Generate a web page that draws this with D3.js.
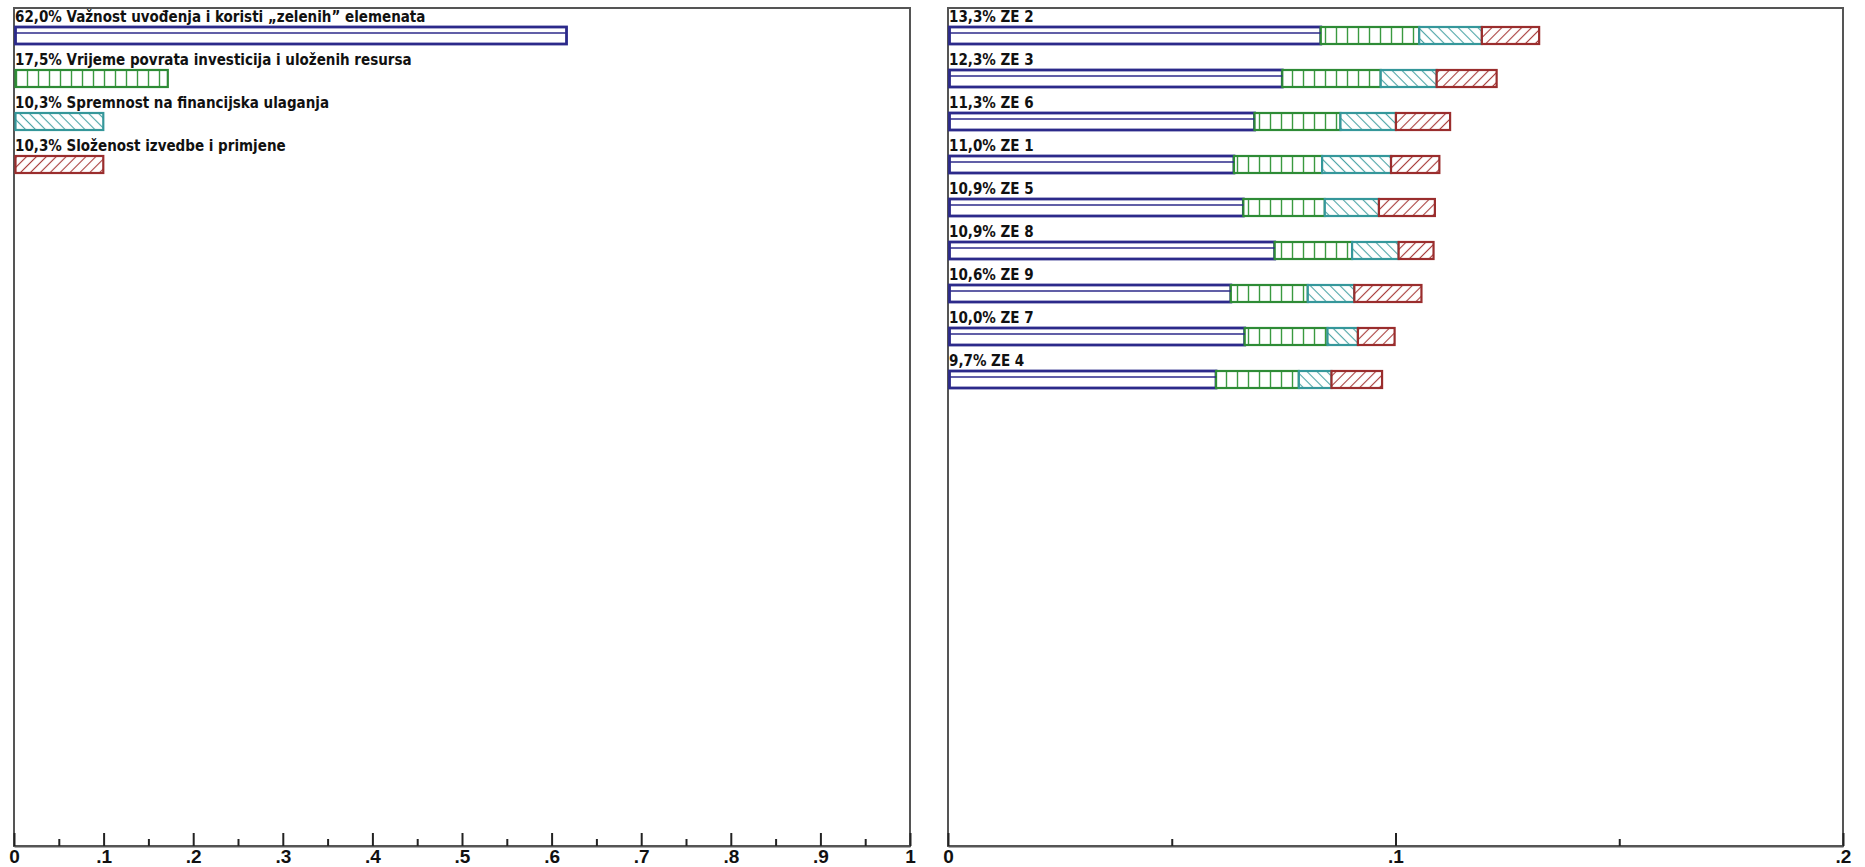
<!DOCTYPE html>
<html>
<head>
<meta charset="utf-8">
<script src="https://cdn.jsdelivr.net/npm/d3@7"></script>
<style>
  html, body { margin: 0; padding: 0; background: #ffffff; }
  svg { display: block; }
</style>
</head>
<body>
<svg id="chart" width="1865" height="867"></svg>
<script>
// ---------------- DATA ----------------
const criteria = [
  "Važnost uvođenja i koristi „zelenih” elemenata",
  "Vrijeme povrata investicija i uloženih resursa",
  "Spremnost na financijska ulaganja",
  "Složenost izvedbe i primjene"
];
const criteriaWeights = [0.620, 0.175, 0.103, 0.103];

const alternatives = ["ZE 2", "ZE 3", "ZE 6", "ZE 1", "ZE 5", "ZE 8", "ZE 9", "ZE 7", "ZE 4"];
const altTotals = [0.133, 0.123, 0.113, 0.110, 0.109, 0.109, 0.106, 0.100, 0.097];
const contribVaznost   = [0.0833, 0.0747, 0.0685, 0.0639, 0.0660, 0.0730, 0.0632, 0.0663, 0.0599];
const contribVrijeme   = [0.0220, 0.0220, 0.0192, 0.0197, 0.0182, 0.0173, 0.0172, 0.0185, 0.0185];
const contribSpremnost = [0.0140, 0.0125, 0.0124, 0.0154, 0.0121, 0.0104, 0.0104, 0.0068, 0.0073];
const contribSlozenost = [0.0128, 0.0134, 0.0121, 0.0108, 0.0125, 0.0078, 0.0150, 0.0082, 0.0113];

const leftMajorTicks  = [0, 0.1, 0.2, 0.3, 0.4, 0.5, 0.6, 0.7, 0.8, 0.9, 1];
const leftMinorTicks  = [0.05, 0.15, 0.25, 0.35, 0.45, 0.55, 0.65, 0.75, 0.85, 0.95];
const rightMajorTicks = [0, 0.1, 0.2];
const rightMinorTicks = [0.05, 0.15];

// ---------------- STYLE ----------------
const strokeCol = ["#2c2a8a", "#2e8b36", "#35979a", "#9a2d2d"];
const hatchCol  = ["#2c2a8a", "#3a9a40", "#4aa4a6", "#a83c3a"];
const fills     = ["url(#pBlue)", "url(#pGreen)", "url(#pCyan)", "url(#pRed)"];
const labelFont = "'DejaVu Sans Condensed', 'DejaVu Sans', sans-serif";
const tickFont  = "'Liberation Sans Narrow', 'Liberation Sans', sans-serif";

const svg = d3.select("#chart");
const defs = svg.append("defs");

// patterns
defs.append("pattern").attr("id", "pBlue").attr("patternUnits", "userSpaceOnUse")
  .attr("width", 10).attr("height", 10)
  .append("rect").attr("width", 10).attr("height", 10).attr("fill", "#fff");

const pg = defs.append("pattern").attr("id", "pGreen").attr("patternUnits", "userSpaceOnUse")
  .attr("width", 11).attr("height", 10);
pg.append("rect").attr("width", 11).attr("height", 10).attr("fill", "#fff");
pg.append("line").attr("x1", 5.5).attr("x2", 5.5).attr("y1", 0).attr("y2", 10)
  .attr("stroke", hatchCol[1]).attr("stroke-width", 1.4);

const pc = defs.append("pattern").attr("id", "pCyan").attr("patternUnits", "userSpaceOnUse")
  .attr("width", 7).attr("height", 10).attr("patternTransform", "rotate(-45)");
pc.append("rect").attr("width", 7).attr("height", 10).attr("fill", "#fff");
pc.append("line").attr("x1", 3.5).attr("x2", 3.5).attr("y1", 0).attr("y2", 10)
  .attr("stroke", hatchCol[2]).attr("stroke-width", 1.1);

const pr = defs.append("pattern").attr("id", "pRed").attr("patternUnits", "userSpaceOnUse")
  .attr("width", 7).attr("height", 10).attr("patternTransform", "rotate(45)");
pr.append("rect").attr("width", 7).attr("height", 10).attr("fill", "#fff");
pr.append("line").attr("x1", 3.5).attr("x2", 3.5).attr("y1", 0).attr("y2", 10)
  .attr("stroke", hatchCol[3]).attr("stroke-width", 1.1);

// ---------------- LAYOUT ----------------
const plotTop = 8, plotBottom = 846;
const xL = d3.scaleLinear().domain([0, 1]).range([14, 910]);
const xR = d3.scaleLinear().domain([0, 0.2]).range([948, 1843]);
const rowY = d3.scaleLinear().domain([0, 1]).range([27, 70]); // bar top per row index
const barH = 17;
const endInset = 3; // outline drawn inside the value end (left panel)

const pct = v => d3.format(".1f")(v * 100).replace(".", ",") + "%";
const tickFmt = v => v === 0 ? "0" : (v === 1 ? "1" : d3.format(".1f")(v).replace(/^0/, ""));

function panel(x, majors, minors) {
  const g = svg.append("g");
  g.append("rect")
    .attr("x", x.range()[0]).attr("y", plotTop)
    .attr("width", x.range()[1] - x.range()[0]).attr("height", plotBottom - plotTop)
    .attr("fill", "#fff").attr("stroke", "#555").attr("stroke-width", 2);
  const ax = g.append("g").attr("transform", `translate(0,${plotBottom})`)
    .call(d3.axisBottom(x).tickValues(majors).tickSizeInner(-13).tickSizeOuter(0).tickPadding(3).tickFormat(tickFmt));
  ax.select(".domain").attr("stroke", "#555").attr("stroke-width", 2);
  ax.selectAll(".tick line").attr("stroke", "#222").attr("stroke-width", 2);
  ax.selectAll(".tick text")
    .attr("fill", "#111").attr("dy", "0.72em")
    .style("font-family", tickFont).style("font-weight", "bold").style("font-size", "19px");
  const axm = g.append("g").attr("transform", `translate(0,${plotBottom})`)
    .call(d3.axisBottom(x).tickValues(minors).tickSizeInner(-7).tickSizeOuter(0).tickFormat(""));
  axm.select(".domain").remove();
  axm.selectAll(".tick line").attr("stroke", "#222").attr("stroke-width", 2);
  return g;
}

// ---------------- LEFT PANEL ----------------
const gL = panel(xL, leftMajorTicks, leftMinorTicks);
const leftData = criteria.map((c, i) => ({ name: c, v: criteriaWeights[i], i }));

gL.selectAll("text.lab").data(leftData).join("text")
  .attr("class", "lab")
  .attr("x", xL(0) + 1).attr("y", d => rowY(d.i) - 5)
  .style("font-family", labelFont).style("font-weight", "bold").style("font-size", "15px")
  .attr("fill", "#111")
  .text(d => pct(d.v) + " " + d.name);

gL.selectAll("rect.bar").data(leftData).join("rect")
  .attr("class", "bar")
  .attr("x", xL(0) + 1.5).attr("y", d => rowY(d.i))
  .attr("width", d => xL(d.v) - xL(0) - 1.5 - endInset).attr("height", barH)
  .attr("fill", d => fills[d.i]).attr("stroke", d => strokeCol[d.i])
  .attr("stroke-width", d => d.i === 0 ? 2.8 : 2.2);

gL.selectAll("line.inner").data(leftData.filter(d => d.i === 0)).join("line")
  .attr("class", "inner")
  .attr("x1", xL(0) + 1.5).attr("x2", d => xL(d.v) - endInset)
  .attr("y1", d => rowY(d.i) + 6).attr("y2", d => rowY(d.i) + 6)
  .attr("stroke", strokeCol[0]).attr("stroke-width", 1.3);

// ---------------- RIGHT PANEL ----------------
const gR = panel(xR, rightMajorTicks, rightMinorTicks);
const contribs = [contribVaznost, contribVrijeme, contribSpremnost, contribSlozenost];
const rightData = alternatives.map((a, i) => {
  let acc = 0;
  const segs = contribs.map((arr, k) => {
    const s = { k, x0: acc, x1: acc + arr[i], row: i };
    acc += arr[i];
    return s;
  });
  return { name: a, total: altTotals[i], i, segs };
});

gR.selectAll("text.lab").data(rightData).join("text")
  .attr("class", "lab")
  .attr("x", xR(0) + 1).attr("y", d => rowY(d.i) - 5)
  .style("font-family", labelFont).style("font-weight", "bold").style("font-size", "15px")
  .attr("fill", "#111")
  .text(d => pct(d.total) + " " + d.name);

const segX0 = d => d.k === 0 ? xR(0) + 1.5 : xR(d.x0);
const rows = gR.selectAll("g.row").data(rightData).join("g").attr("class", "row");
rows.selectAll("rect").data(d => d.segs).join("rect")
  .attr("x", segX0)
  .attr("y", d => rowY(d.row))
  .attr("width", d => xR(d.x1) - segX0(d))
  .attr("height", barH)
  .attr("fill", d => fills[d.k]).attr("stroke", d => strokeCol[d.k])
  .attr("stroke-width", d => d.k === 0 ? 2.8 : 2.2);
rows.selectAll("line.inner").data(d => d.segs.filter(s => s.k === 0)).join("line")
  .attr("class", "inner")
  .attr("x1", xR(0) + 1.5).attr("x2", d => xR(d.x1))
  .attr("y1", d => rowY(d.row) + 6).attr("y2", d => rowY(d.row) + 6)
  .attr("stroke", strokeCol[0]).attr("stroke-width", 1.3);
</script>
</body>
</html>
